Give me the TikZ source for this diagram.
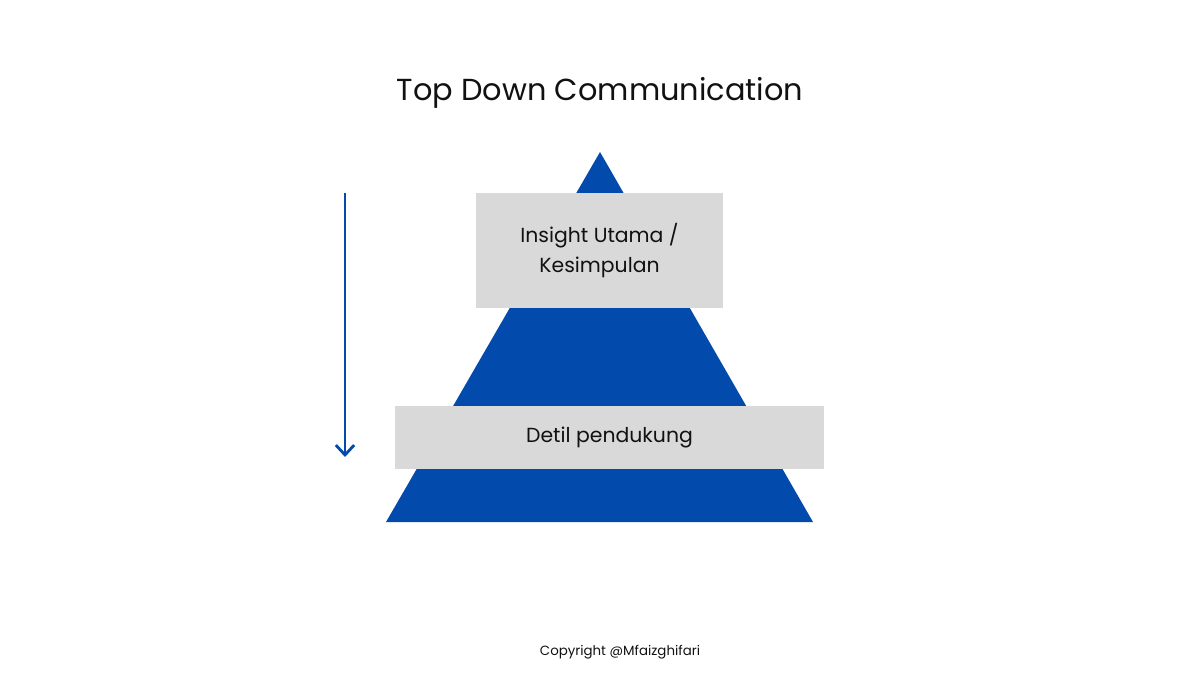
\documentclass[tikz,border=0pt]{standalone}
\usepackage{fontspec}
\setmainfont{Poppins}
\usepackage{xcolor}
\usetikzlibrary{arrows.meta,positioning}
\definecolor{PyramidBlue}{HTML}{034AAD}
\definecolor{PyramidGrey}{HTML}{D9D9D9}
\definecolor{PyramidInk}{HTML}{111111}

\begin{document}
\begin{tikzpicture}[
  x=0.025cm,y=-0.025cm,
  band/.style={fill=PyramidGrey,text=PyramidInk,inner sep=0pt,align=center,
    font=\fontsize{14.5}{21}\selectfont},
  heading/.style={text=PyramidInk,font=\fontsize{21.6}{26}\selectfont},
  credit/.style={text=PyramidInk,font=\fontsize{9.5}{12}\selectfont},
  flow/.style={draw=PyramidBlue,line width=2pt,-{Straight Barb[length=7pt,width=13pt,line width=2pt]}}
]
\useasboundingbox (0,0) rectangle (1200,675);
\node[heading] (title) at (600,93) {Top Down Communication};
% pyramid
\coordinate (apex) at (600,152);
\coordinate (baseleft) at (386,522);
\coordinate (baseright) at (813,522);
\fill[PyramidBlue] (apex) -- (baseright) -- (baseleft) -- cycle;
\node[band,minimum width=6.175cm,minimum height=2.875cm] (insight) at (599.5,250.5)
  {Insight Utama /\\Kesimpulan};
\node[band,minimum width=10.725cm,minimum height=1.575cm] (detail) at (609.5,437.5)
  {Detil pendukung};
% direction
\coordinate (flowtop) at (345,193);
\coordinate (flowend) at (345,457);
\draw[flow] (flowtop) -- (flowend);
\node[credit] (copyright) at (620,652) {Copyright @Mfaizghifari};
\end{tikzpicture}
\end{document}
